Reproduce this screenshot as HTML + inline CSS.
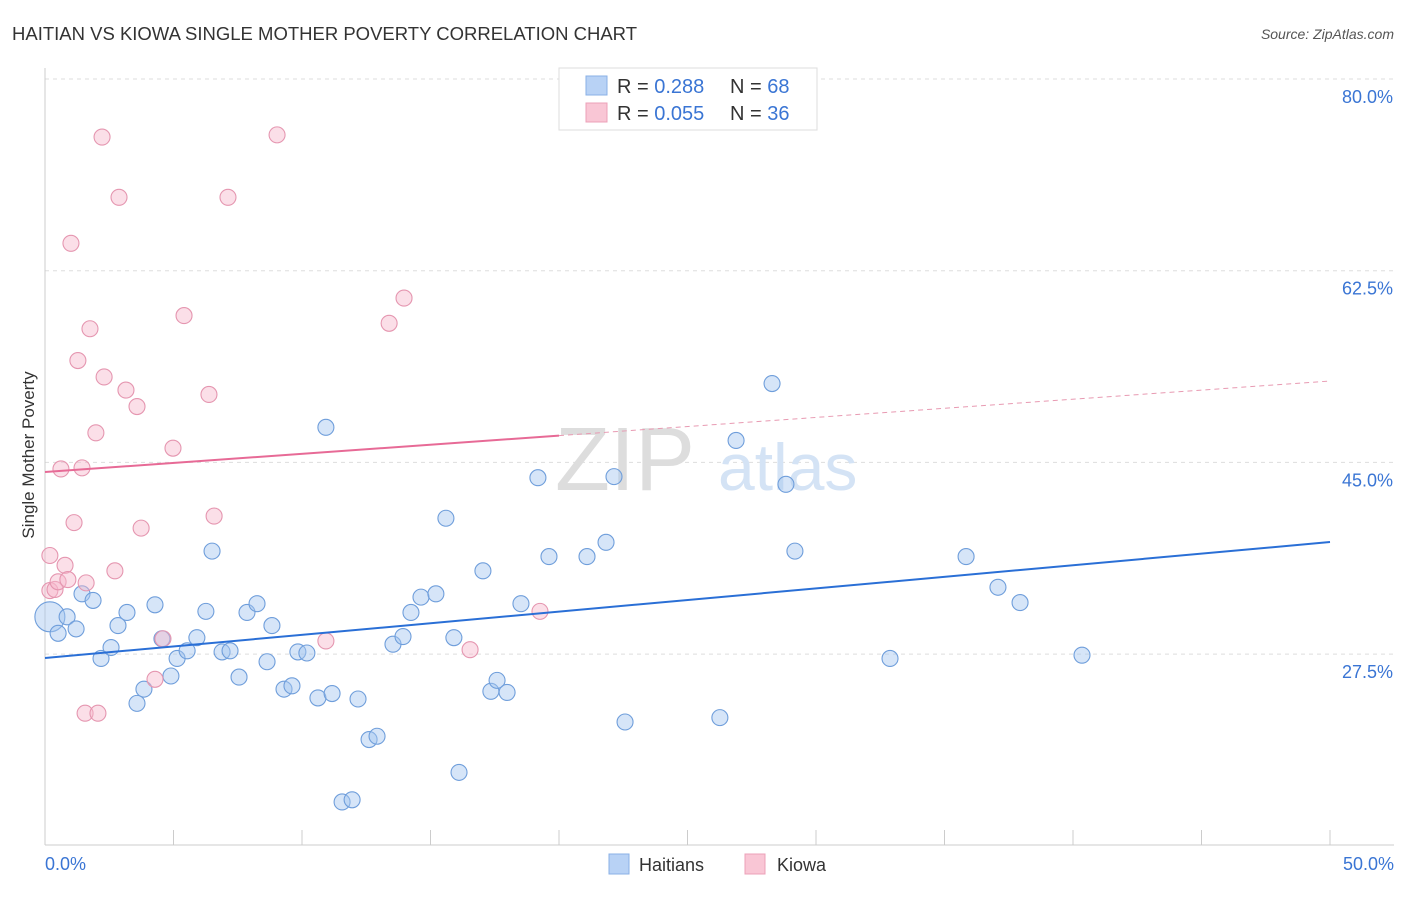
<!DOCTYPE html>
<html><head><meta charset="utf-8"><style>
body{margin:0;background:#fff;font-family:"Liberation Sans",sans-serif;}
svg text{font-family:"Liberation Sans",sans-serif;}
</style></head><body>
<svg width="1406" height="892" xmlns="http://www.w3.org/2000/svg" id="chart">
<text x="12" y="40" font-size="18.5" fill="#333">HAITIAN VS KIOWA SINGLE MOTHER POVERTY CORRELATION CHART</text>
<text x="1394" y="39" font-size="14" fill="#555" text-anchor="end" font-style="italic">Source: ZipAtlas.com</text>
<g id="grid"></g>
<g id="yticks"></g>
<line x1="45" y1="68" x2="45" y2="845" stroke="#ccc"/>
<line x1="45" y1="845" x2="1394" y2="845" stroke="#ccc"/>
<g id="xticks"></g>
<text x="45" y="870" font-size="18" fill="#3a75d4">0.0%</text>
<text x="1394" y="870" font-size="18" fill="#3a75d4" text-anchor="end">50.0%</text>
<text x="34" y="455" font-size="17" fill="#333" text-anchor="middle" transform="rotate(-90 34 455)">Single Mother Poverty</text>
<text x="555" y="490" font-size="90" fill="#ddd" font-family="Liberation Serif">ZIP</text>
<text x="718" y="490" font-size="66" fill="#d4e3f5">atlas</text>
<g id="pts"></g>
<g id="trend"></g>
<g>
<rect x="559" y="68" width="258" height="62" fill="#fff" stroke="#ddd"/>
<rect x="586" y="76" width="21" height="19" fill="#b8d2f5" stroke="#8ab0e6"/>
<rect x="586" y="103" width="21" height="19" fill="#f9c6d5" stroke="#eca0b8"/>
<text x="617" y="93" font-size="20" fill="#333">R = <tspan fill="#3a75d4">0.288</tspan><tspan x="730">N = </tspan><tspan fill="#3a75d4">68</tspan></text>
<text x="617" y="120" font-size="20" fill="#333">R = <tspan fill="#3a75d4">0.055</tspan><tspan x="730">N = </tspan><tspan fill="#3a75d4">36</tspan></text>
</g>
<g>
<rect x="609" y="854" width="20" height="20" fill="#b8d2f5" stroke="#8ab0e6"/>
<text x="639" y="871" font-size="18" fill="#333">Haitians</text>
<rect x="745" y="854" width="20" height="20" fill="#f9c6d5" stroke="#eca0b8"/>
<text x="777" y="871" font-size="18" fill="#333">Kiowa</text>
</g>
</svg>
<script>
const yTicks=[80,62.5,45,27.5];
const xTickVals=[0,5,10,15,20,25,30,35,40,45,50];
const blueX=[0.19,0.51,0.86,1.21,1.44,1.87,2.18,2.57,2.84,3.19,3.58,3.85,4.28,4.55,4.90,5.14,5.53,5.91,6.26,6.50,6.89,7.20,7.55,7.86,8.25,8.64,8.83,9.30,9.61,9.84,10.19,10.62,11.17,10.93,11.56,11.95,12.18,12.61,12.92,13.54,13.93,14.24,14.63,15.21,15.60,15.91,16.11,17.04,17.35,17.59,17.98,18.52,19.18,19.61,21.09,21.83,22.14,22.57,26.26,26.89,28.29,28.83,29.18,32.88,35.84,37.08,37.94,40.35];
const blueY=[30.9,29.4,30.9,29.8,33.0,32.4,27.1,28.1,30.1,31.3,23.0,24.3,32.0,28.9,25.5,27.1,27.8,29.0,31.4,36.9,27.7,27.8,25.4,31.3,32.1,26.8,30.1,24.3,24.6,27.7,27.6,23.5,23.9,48.2,14.0,14.2,23.4,19.7,20.0,28.4,29.1,31.3,32.7,33.0,39.9,29.0,16.7,35.1,24.1,25.1,24.0,32.1,43.6,36.4,36.4,37.7,43.7,21.3,21.7,47.0,52.2,43.0,36.9,27.1,36.4,33.6,32.2,27.4];
const pinkX=[0.19,0.19,0.39,0.51,0.62,0.78,0.89,1.01,1.13,1.28,1.44,1.60,1.56,1.75,1.98,2.06,2.22,2.30,2.72,2.88,3.15,3.58,3.74,4.28,4.59,4.98,5.41,6.38,6.58,7.12,9.03,10.93,13.39,13.97,16.54,19.26];
const pinkY=[36.5,33.3,33.4,34.1,44.4,35.6,34.3,65.0,39.5,54.3,44.5,34.0,22.1,57.2,47.7,22.1,74.7,52.8,35.1,69.2,51.6,50.1,39.0,25.2,28.9,46.3,58.4,51.2,40.1,69.2,74.9,28.7,57.7,60.0,27.9,31.4];
const blueTrend=[27.14,37.73];
const pinkTrend=[44.12,52.43];
const NS="http://www.w3.org/2000/svg";
function sx(v){return 45+v*25.7;}
function sy(v){return 79+(80-v)*10.954;}
function mk(t,a,p){const e=document.createElementNS(NS,t);for(const k in a)e.setAttribute(k,a[k]);document.getElementById(p).appendChild(e);return e;}
yTicks.forEach(v=>{
 const l=mk('line',{x1:45,x2:1394,y1:sy(v),y2:sy(v),stroke:'#ddd','stroke-dasharray':'4,4'},'grid');
 
 
 const t=mk('text',{x:1393,y:sy(v)+24,'font-size':18,fill:'#3a75d4','text-anchor':'end'},'yticks');
 t.textContent=v.toFixed(1)+'%';
 
 
});
xTickVals.forEach(v=>{
 const l=mk('line',{x1:sx(v),x2:sx(v),y1:830,y2:845,stroke:'#ccc'},'xticks');
 
 
});
blueX.forEach((x,i)=>{
 const c=mk('circle',{cx:sx(x),cy:sy(blueY[i]),r:i===0?15:8,fill:'rgba(165,198,240,0.45)',stroke:'#6f9edb','stroke-width':1.1},'pts');
 
 
});
pinkX.forEach((x,i)=>{
 const c=mk('circle',{cx:sx(x),cy:sy(pinkY[i]),r:8,fill:'rgba(246,184,204,0.45)',stroke:'#e596b0','stroke-width':1.1},'pts');
 
 
});
const b=mk('line',{x1:sx(0),y1:sy(blueTrend[0]),x2:sx(50),y2:sy(blueTrend[1]),stroke:'#2a6fd6','stroke-width':2},'trend');


const pm=pinkTrend[0]+(pinkTrend[1]-pinkTrend[0])*20/50;
const p1=mk('line',{x1:sx(0),y1:sy(pinkTrend[0]),x2:sx(20),y2:sy(pm),stroke:'#e76a96','stroke-width':2},'trend');


const p2=mk('line',{x1:sx(20),y1:sy(pm),x2:sx(50),y2:sy(pinkTrend[1]),stroke:'#e89ab2','stroke-width':1,'stroke-dasharray':'5,4'},'trend');


</script>
</body></html>
